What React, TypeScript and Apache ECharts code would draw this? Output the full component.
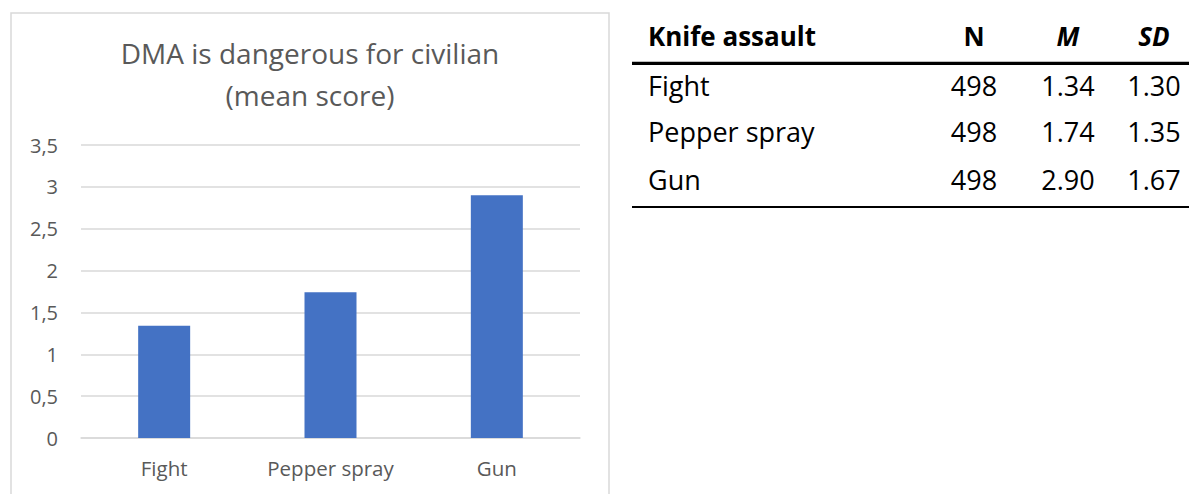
import React, { useEffect, useRef } from "react";
import * as echarts from "echarts";

const categories = ["Fight", "Pepper spray", "Gun"];
const meanScores = [1.34, 1.74, 2.9];
const yTicks = { min: 0, max: 3.5, interval: 0.5 };

const tableTitle = "Knife assault";
const tableHeaders = ["N", "M", "SD"];
const tableRows = ["Fight", "Pepper spray", "Gun"];
const tableN = ["498", "498", "498"];
const tableM = ["1.34", "1.74", "2.90"];
const tableSD = ["1.30", "1.35", "1.67"];

const FONT = "'Open Sans', sans-serif";

export default function App() {
  const ref = useRef<HTMLDivElement>(null);
  useEffect(() => {
    if (!ref.current) return;
    const chart = echarts.init(ref.current, null, { renderer: "svg" });

    const colX = [974, 1068, 1154];
    const headerY = 36;
    const rowY = [85.5, 131.5, 179];
    const graphics: any[] = [
      {
        type: "rect",
        shape: { x: 11, y: 13, width: 598, height: 520 },
        style: { fill: "none", stroke: "#d9d9d9", lineWidth: 1.5 },
        silent: true,
      },
      {
        type: "text",
        style: {
          text: tableTitle,
          x: 648,
          y: headerY,
          font: `bold 26px ${FONT}`,
          fill: "#000",
          textAlign: "left",
          textVerticalAlign: "middle",
        },
      },
      ...tableHeaders.map((h, i) => ({
        type: "text",
        style: {
          text: h,
          x: colX[i],
          y: headerY,
          font: `${i === 0 ? "" : "italic "}bold 26px ${FONT}`,
          fill: "#000",
          textAlign: "center",
          textVerticalAlign: "middle",
        },
      })),
      {
        type: "line",
        shape: { x1: 632, y1: 63.3, x2: 1189, y2: 63.3 },
        style: { stroke: "#000", lineWidth: 3.3 },
      },
      {
        type: "line",
        shape: { x1: 632, y1: 207, x2: 1189, y2: 207 },
        style: { stroke: "#000", lineWidth: 2 },
      },
    ];
    tableRows.forEach((name, r) => {
      const cells = [tableN[r], tableM[r], tableSD[r]];
      graphics.push({
        type: "text",
        style: {
          text: name,
          x: 648,
          y: rowY[r],
          font: `27px ${FONT}`,
          fill: "#000",
          textAlign: "left",
          textVerticalAlign: "middle",
        },
      });
      cells.forEach((c, i) => {
        graphics.push({
          type: "text",
          style: {
            text: c,
            x: colX[i],
            y: rowY[r],
            font: `27px ${FONT}`,
            fill: "#000",
            textAlign: "center",
            textVerticalAlign: "middle",
          },
        });
      });
    });

    chart.setOption({
      animation: false,
      title: {
        text: "DMA is dangerous for civilian\n(mean score)",
        left: 310,
        top: 32,
        padding: 0,
        textAlign: "center",
        textStyle: {
          fontFamily: FONT,
          fontSize: 28,
          fontWeight: "normal",
          color: "#595959",
          lineHeight: 42,
        },
      },
      grid: { left: 81, right: 609, top: 145, bottom: 56, containLabel: false },
      xAxis: {
        type: "category",
        data: categories,
        axisLine: { show: true, lineStyle: { color: "#d9d9d9", width: 1.5 } },
        axisTick: { show: false },
        axisLabel: { color: "#595959", fontFamily: FONT, fontSize: 20.5, margin: 19 },
      },
      yAxis: {
        type: "value",
        min: yTicks.min,
        max: yTicks.max,
        interval: yTicks.interval,
        axisLine: { show: false },
        axisTick: { show: false },
        splitLine: { lineStyle: { color: "#d9d9d9", width: 1.5 } },
        axisLabel: {
          color: "#595959",
          fontFamily: FONT,
          fontSize: 20,
          margin: 23,
          formatter: (v: number) => String(v).replace(".", ","),
        },
      },
      series: [
        {
          type: "bar",
          data: meanScores,
          barWidth: 52,
          itemStyle: { color: "#4472C4" },
        },
      ],
      graphic: graphics,
    });
    return () => chart.dispose();
  }, []);
  return (
    <div
      ref={ref}
      style={{ position: "fixed", left: 0, top: 0, width: 1189, height: 494, background: "#fff" }}
    />
  );
}
